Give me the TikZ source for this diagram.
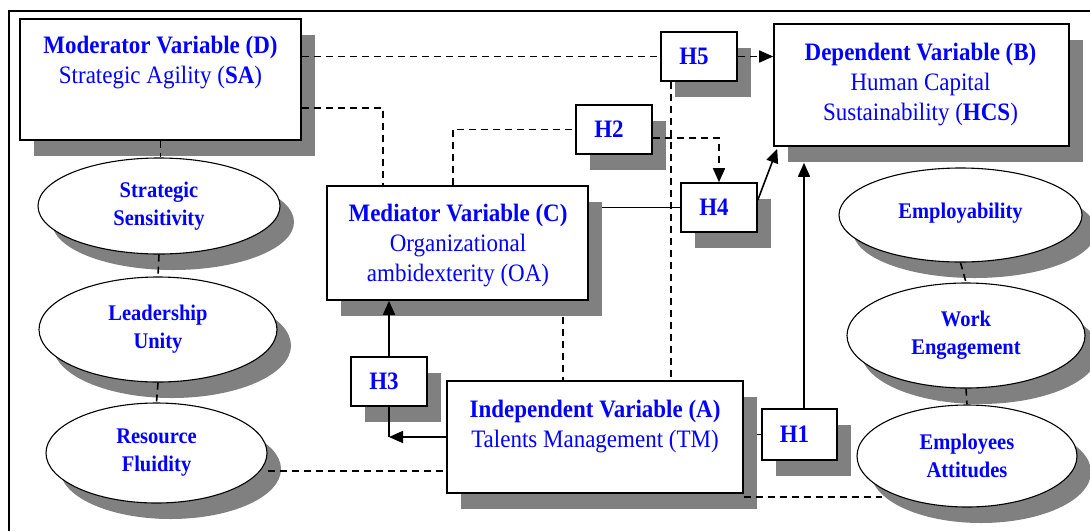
\documentclass[tikz,border=0pt]{standalone}
\usepackage{fontspec}
\setmainfont{Liberation Serif}
\usetikzlibrary{shapes.geometric,shadows,arrows.meta,backgrounds}
\definecolor{shgray}{RGB}{128,128,128}
\definecolor{tblue}{RGB}{0,0,255}
\newcommand\vst[1]{\scalebox{1}[1.09]{#1}}
\begin{document}
\begin{tikzpicture}[x=1pt,y=-1pt,
  shbox/.style={draw=black, line width=1.6pt, fill=white, rectangle, inner sep=0pt,
    drop shadow={shadow xshift=14pt, shadow yshift=-15.5pt, fill=shgray, opacity=1}},
  hbox/.style={shbox, minimum width=76pt, minimum height=49pt,
    font=\fontsize{23}{28}\selectfont\bfseries, text=tblue},
  ovalnode/.style={ellipse, draw=black, line width=1.1pt, fill=white, inner sep=0pt, align=center,
    font=\fontsize{20.5}{28}\selectfont\bfseries, text=tblue,
    drop shadow={shadow xshift=14pt, shadow yshift=-16pt, fill=shgray, opacity=1}},
  btext/.style={anchor=north, inner sep=0pt, align=center, text=tblue,
    font=\fontsize{23}{30}\selectfont},
  dline/.style={line width=1.6pt, dash pattern=on 7pt off 5pt},
  sline/.style={line width=1.6pt},
  arrowtip/.style={-{Triangle[length=14pt,width=12pt]}}
]
\useasboundingbox (0,0) rectangle (1090,531);

% boxes
\node[shbox, minimum width=281pt, minimum height=121pt] (D) at (160.5,79.5) {};
\node[btext] (Dt) at (160.5,35.5) {\vst{\textbf{Moderator Variable (D)}}\\\vst{Strategic Agility (\textbf{SA})}};

\node[shbox, minimum width=295pt, minimum height=122pt] (B) at (921.5,85) {};
\node[btext] (Bt) at (920.5,42.5) {\vst{\textbf{Dependent Variable (B)}}\\\vst{Human Capital}\\\vst{Sustainability (\textbf{HCS})}};

\node[shbox, minimum width=261pt, minimum height=114pt] (C) at (457.5,243) {};
\node[btext] (Ct) at (458,203.5) {\vst{\textbf{Mediator Variable (C)}}\\\vst{Organizational}\\\vst{ambidexterity (OA)}};

\node[shbox, minimum width=296pt, minimum height=112pt] (A) at (595,437) {};
\node[btext] (At) at (595,399.5) {\vst{\textbf{Independent Variable (A)}}\\\vst{Talents Management (TM)}};

% hypothesis boxes
\node[hbox] (H5) at (699,56.5) {\vst{H5}\kern10pt};
\node[hbox] (H2) at (614,129.5) {\vst{H2}\kern10pt};
\node[hbox] (H4) at (719,207.5) {\vst{H4}\kern10pt};
\node[hbox] (H3) at (389,381.5) {\vst{H3}\kern10pt};
\node[hbox, minimum width=75pt, minimum height=51pt] (H1) at (799.5,434.5) {\vst{H1}\kern10pt};

% ellipses
\node[ovalnode, minimum width=242pt, minimum height=96pt] (SS) at (159,206) {\vst{Strategic}\\\vst{Sensitivity}};
\node[ovalnode, minimum width=238pt, minimum height=105pt] (LU) at (158,329.5) {\vst{Leadership}\\\vst{Unity}};
\node[ovalnode, minimum width=221pt, minimum height=100pt] (RF) at (156.5,453) {\vst{Resource}\\\vst{Fluidity}};
\node[ovalnode, minimum width=243pt, minimum height=94pt] (E) at (960.5,215) {\raisebox{8pt}{\vst{Employability}}};
\node[ovalnode, minimum width=238pt, minimum height=105pt] (WE) at (966,335.5) {\vst{Work}\\\vst{Engagement}};
\node[ovalnode, minimum width=220pt, minimum height=102pt] (EA) at (967,456) {\vst{Employees}\\\vst{Attitudes}};

% background: white fill and solid lines hidden by shadows
\begin{scope}[on background layer]
  \fill[white] (0,0) rectangle (1090,531);
  \draw[sline] (C.east |- H4.west) -- (H4.west);
  \draw[sline] (A.east |- H1.west) -- (H1.west);
\end{scope}

% frame
\draw[line width=1.3pt] (9,531) -- (9,11) -- (1090,11);

% dashed connectors
\draw[dline] (D.east |- H5.west) -- (H5.west);
\draw[dline, arrowtip] (H5.east) -- (H5.east -| B.west);
\draw[dline] ([yshift=-28.5pt]D.east) -| ([xshift=-74.5pt]C.north);
\draw[dline] ([xshift=-4.5pt]C.north) |- (H2.west);
\draw[dline, arrowtip] ([yshift=-8.5pt]H2.east) -| (H4.north);
\coordinate (h5d) at ([xshift=-28pt]H5.south);
\draw[dline] (h5d) -- (h5d |- A.north);
\coordinate (cad) at ([xshift=105.5pt,yshift=-16pt]C.south);
\draw[dline] (cad) -- (cad |- A.north);
\coordinate (rf) at ([yshift=-18pt]RF.east);
\draw[dline] (rf) -- (rf -| A.west);
\coordinate (ab) at ([yshift=-3pt]A.south east);
\coordinate (eaw) at ([xshift=26pt]EA.west);
\draw[dline] (ab) -- (ab -| eaw);
\draw[dline] (D.south) -- (D.south |- SS.north);
\draw[dline] (SS.south) -- (LU.north);
\draw[dline] (LU.south) -- (RF.north);
\draw[dline] (E.south) -- (WE.north);
\draw[dline] (WE.south) -- (EA.north);

% solid connectors
\draw[sline, arrowtip] ([yshift=7.5pt]H4.east) -- ([xshift=4pt,yshift=-2pt]B.south west);
\coordinate (h1t) at ([xshift=4.5pt]H1.north);
\coordinate (bsh) at ([yshift=-16pt]B.south);
\draw[sline, arrowtip] (h1t) -- (h1t |- bsh);
\draw[sline, arrowtip] (H3.north) -- (H3.north |- C.south);
\coordinate (h3c) at (A.west -| H3.south);
\draw[sline, arrowtip] (A.west) -- (h3c);
\draw[sline] (h3c) -- (H3.south);
\end{tikzpicture}
\end{document}
